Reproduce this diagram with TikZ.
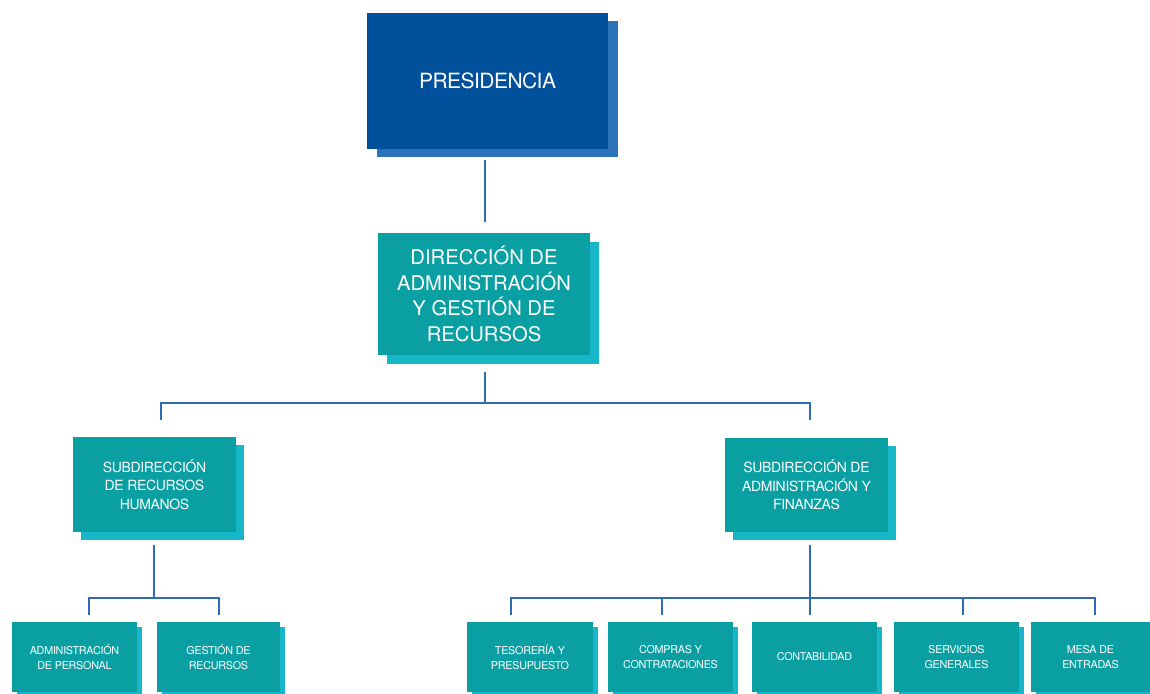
\documentclass[tikz,border=0pt]{standalone}
\usepackage{fontspec}
\setmainfont{TeX Gyre Heros}
\newfontfamily\boxfont{TeX Gyre Heros}[LetterSpace=-2.5]
\usetikzlibrary{shadows}

\definecolor{presblue}{HTML}{00509C}
\definecolor{presshade}{HTML}{2B72B8}
\definecolor{unitteal}{HTML}{0AA0A3}
\definecolor{unitshade}{HTML}{17B6C9}
\definecolor{linkblue}{HTML}{2D6DB4}

\tikzset{
  unitbox/.style={fill=unitteal, text=white, inner sep=0pt, align=center,
    general shadow={fill=unitshade, shadow xshift=#1, shadow yshift=-#1}},
  unitbox/.default=5pt,
  link/.style={draw=linkblue, line width=2.3pt}
}

\begin{document}
\begin{tikzpicture}[x=1pt, y=-1pt]

\clip (0,0) rectangle (1150,693);
\fill[white] (0,0) rectangle (1150,693);

% top levels
\node (pres) at (487.5,81) [fill=presblue, text=white, inner sep=0pt,
  minimum width=241pt, minimum height=136pt,
  general shadow={fill=presshade, shadow xshift=10pt, shadow yshift=-8pt},
  font=\boxfont\fontsize{21}{24}\selectfont] {PRESIDENCIA};

\node (dir) at (484,294) [unitbox=9pt, minimum width=212pt, minimum height=122pt,
  font=\fontsize{20.2}{25.5}\selectfont]
  {DIRECCIÓN DE\\ADMINISTRACIÓN\\Y GESTIÓN DE\\RECURSOS};

% subdirecciones
\node (subrh) at (154.5,484.5) [unitbox=7.5pt, minimum width=163pt, minimum height=95pt,
  font=\boxfont\fontsize{14}{18.5}\selectfont]
  {SUBDIRECCIÓN\\DE RECURSOS\\HUMANOS};
\node (subaf) at (806.5,485) [unitbox=7.5pt, minimum width=163pt, minimum height=94pt,
  font=\boxfont\fontsize{14}{18.5}\selectfont]
  {SUBDIRECCIÓN DE\\ADMINISTRACIÓN Y\\FINANZAS};

% areas
\tikzset{areabox/.style={unitbox=4.5pt, minimum width=125pt, minimum height=70pt,
  font=\boxfont\fontsize{10.8}{15}\selectfont}}
\node (adper) at (74.5,657) [areabox] {ADMINISTRACIÓN\\DE PERSONAL};
\node (gesrec) at (218.5,657) [areabox, minimum width=123pt] {GESTIÓN DE\\RECURSOS};
\node (teso) at (530,657) [areabox, minimum width=126pt] {TESORERÍA Y\\PRESUPUESTO};
\node (comp) at (670.5,657) [areabox] {COMPRAS Y\\CONTRATACIONES};
\node (conta) at (814.5,657) [areabox] {CONTABILIDAD};
\node (serv) at (956.5,657) [areabox] {SERVICIOS\\GENERALES};
\node (mesa) at (1090.5,657) [areabox, minimum width=119pt] {MESA DE\\ENTRADAS};

% connectors
\coordinate (p1) at (485,160);
\coordinate (d0) at (485,222);
\draw[link] (p1) -- (d0);

\coordinate (d1) at (485,372);
\coordinate (bus1) at (485,403);
\coordinate (s1) at (161,420);
\coordinate (s2) at (810,420);
\draw[link] (d1) -- (bus1);
\draw[link] (s1) |- (bus1) -| (s2);

\coordinate (h1) at (154,545);
\coordinate (bus2) at (154,598);
\coordinate (a1) at (89,615);
\coordinate (a2) at (219,615);
\draw[link] (h1) -- (bus2);
\draw[link] (a1) |- (bus2) -| (a2);

\coordinate (f1) at (810,545);
\coordinate (bus3) at (810,598);
\coordinate (b1) at (511,615);
\coordinate (b2) at (662,615);
\coordinate (b3) at (810,615);
\coordinate (b4) at (963,615);
\coordinate (b5) at (1095,615);
\draw[link] (f1) -- (b3);
\draw[link] (b1) |- (bus3) -| (b5);
\draw[link] (b2) |- (bus3);
\draw[link] (b4) |- (bus3);

\end{tikzpicture}
\end{document}
